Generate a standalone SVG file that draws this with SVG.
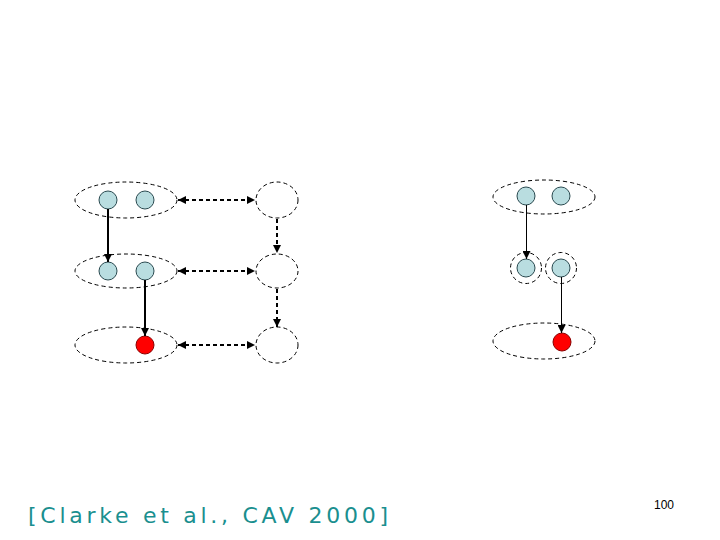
<svg xmlns="http://www.w3.org/2000/svg" width="720" height="540" viewBox="0 0 720 540">
<defs>
<marker id="ah2" viewBox="0 0 10 10" refX="10" refY="5" markerWidth="8" markerHeight="8" orient="auto-start-reverse" markerUnits="userSpaceOnUse">
<path d="M0,0 L10,5 L0,10 z" fill="#000"/>
</marker>
</defs>
<style>
.grp{fill:none;stroke:#000;stroke-width:1;stroke-dasharray:4 3}
.st{fill:#b9dde0;stroke:#2a4a50;stroke-width:1}
.bad{fill:#ff0000;stroke:#8a0000;stroke-width:1}
.dash{fill:none;stroke:#000;stroke-width:2;stroke-dasharray:4 3}
.solid{fill:none;stroke:#000;stroke-width:2}
.thin{fill:none;stroke:#000;stroke-width:1}
</style>
<rect width="720" height="540" fill="#fff"/>
<g id="left-abstract">
<g id="A1"><ellipse class="grp" cx="126" cy="200" rx="51" ry="18"/><circle class="st" cx="108" cy="200" r="9"/><circle class="st" cx="145" cy="200" r="9"/></g>
<g id="A2"><ellipse class="grp" cx="126" cy="271" rx="51" ry="17"/><circle class="st" cx="108" cy="271" r="9"/><circle class="st" cx="145" cy="271" r="9"/></g>
<g id="A3"><ellipse class="grp" cx="126" cy="345" rx="51" ry="18"/><circle class="bad" cx="145" cy="345" r="9"/></g>
<g id="B1"><ellipse class="grp" cx="277" cy="200" rx="21" ry="18"/></g>
<g id="B2"><ellipse class="grp" cx="277" cy="271" rx="21" ry="17"/></g>
<g id="B3"><ellipse class="grp" cx="277" cy="345" rx="21" ry="18"/></g>
</g>
<g id="right-refined">
<g id="C1"><ellipse class="grp" cx="544" cy="197" rx="51" ry="17"/><circle class="st" cx="526" cy="196" r="9"/><circle class="st" cx="561" cy="196" r="9"/></g>
<g id="C2a"><circle class="grp" cx="526" cy="268" r="15.5"/><circle class="st" cx="526" cy="268" r="9"/></g>
<g id="C2b"><circle class="grp" cx="561" cy="268" r="15.5"/><circle class="st" cx="561" cy="268" r="9"/></g>
<g id="C3"><ellipse class="grp" cx="544" cy="341" rx="51" ry="18"/><circle class="bad" cx="562" cy="342" r="9"/></g>
</g>
<g id="connectors">
<line class="dash" x1="178" y1="200" x2="255" y2="200" marker-start="url(#ah2)" marker-end="url(#ah2)"/>
<line class="dash" x1="178" y1="271" x2="255" y2="271" marker-start="url(#ah2)" marker-end="url(#ah2)"/>
<line class="dash" x1="178" y1="345" x2="255" y2="345" marker-start="url(#ah2)" marker-end="url(#ah2)"/>
<line class="dash" x1="277" y1="219" x2="277" y2="253" marker-end="url(#ah2)"/>
<line class="dash" x1="277" y1="289" x2="277" y2="327" marker-end="url(#ah2)"/>
<line class="solid" x1="108" y1="209" x2="108" y2="262" marker-end="url(#ah2)"/>
<line class="solid" x1="145" y1="280" x2="145" y2="336" marker-end="url(#ah2)"/>
<line class="thin" x1="526.5" y1="205" x2="526.5" y2="259" marker-end="url(#ah2)"/>
<line class="thin" x1="561.5" y1="277" x2="561.5" y2="333" marker-end="url(#ah2)"/>
</g>
<text x="28" y="523" font-family="DejaVu Sans, sans-serif" font-size="22" fill="#1a8f8f" textLength="360" lengthAdjust="spacing">[Clarke et al., CAV 2000]</text>
<text x="654" y="509" font-family="Liberation Sans, Arial, sans-serif" font-size="12" fill="#000">100</text>
</svg>
